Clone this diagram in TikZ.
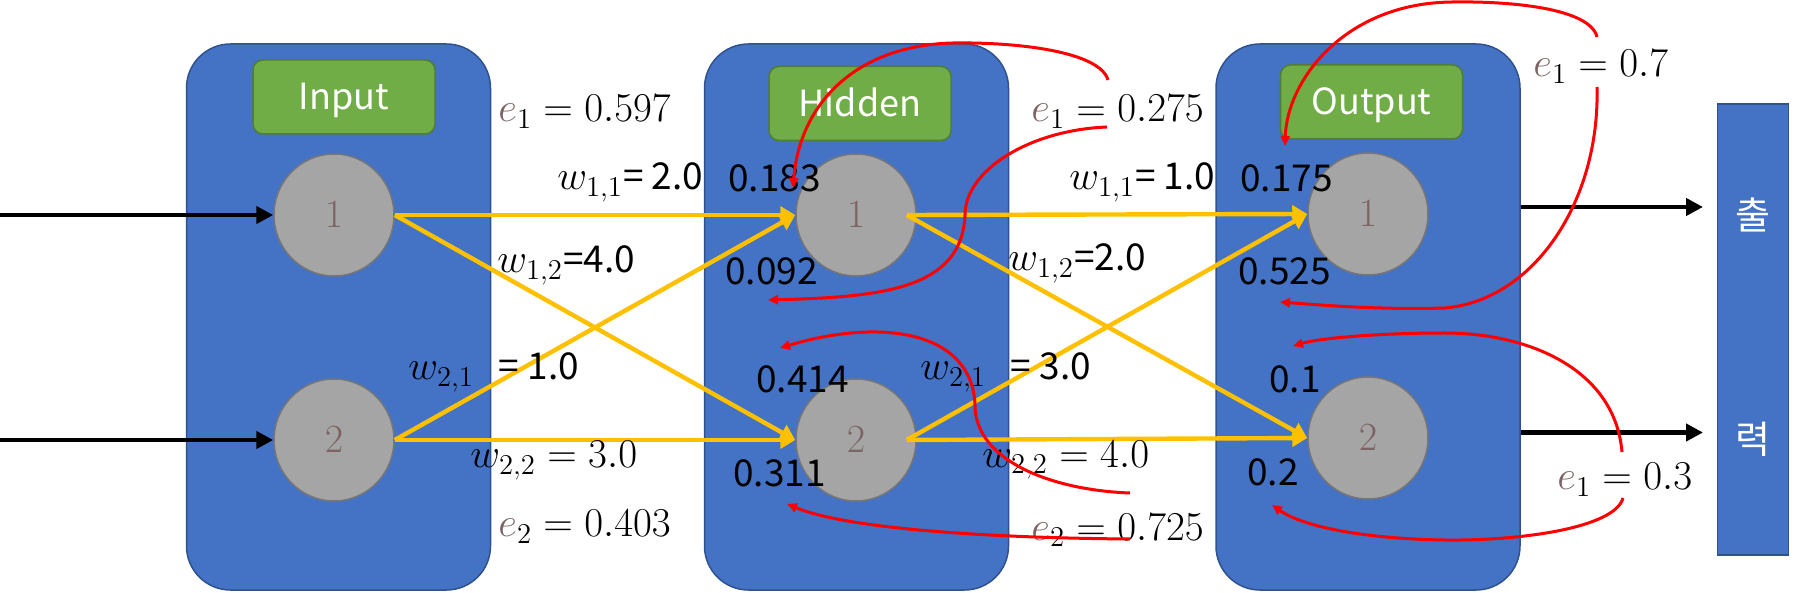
\RequirePackage{fix-cm}
\documentclass[tikz,border=0pt]{standalone}
\usepackage[no-math]{fontspec}
\setmainfont{Noto Sans CJK KR}
\usetikzlibrary{arrows.meta, positioning, shapes.geometric}
\definecolor{xBlue}{RGB}{68,114,196}
\definecolor{xBlueLine}{RGB}{47,82,143}
\definecolor{xGreen}{RGB}{112,173,71}
\definecolor{xGreenLine}{RGB}{80,126,50}
\definecolor{xGray}{RGB}{165,165,165}
\definecolor{xGrayLine}{RGB}{118,118,118}
\definecolor{xGold}{RGB}{255,192,0}
\definecolor{xBrown}{RGB}{124,100,100}
\definecolor{xRed}{RGB}{255,0,0}
\newcommand{\Ev}[2]{${\color{xBrown}e}_{#1} = #2$}
\newcommand{\Wt}[2]{$w_{#1}${\fontsize{18.5}{21}\selectfont#2}}
\tikzset{
  panel/.style={draw=xBlueLine, fill=xBlue, line width=0.75pt, rounded corners=22pt, minimum width=152pt, minimum height=273pt},
  badge/.style={draw=xGreenLine, fill=xGreen, line width=0.75pt, rounded corners=5pt, minimum width=91pt, minimum height=37pt,
                text height=13pt, text depth=0pt, text=white, font=\fontsize{18}{20}\selectfont},
  neuron/.style={ellipse, draw=xGrayLine, fill=xGray, line width=0.75pt, minimum width=60pt, minimum height=61pt, inner sep=0pt,
                 text=xBrown, font=\fontsize{20}{23}\selectfont},
  outbox/.style={draw=xBlueLine, fill=xBlue, line width=0.75pt, minimum width=35.5pt, minimum height=225.5pt},
  hangul/.style={text=white, inner sep=0pt, font=\fontsize{19}{22}\selectfont},
  num/.style={anchor=base west, inner sep=0pt, font=\fontsize{18.5}{21}\selectfont},
  eqn/.style={anchor=base west, inner sep=0pt, font=\fontsize{20.5}{24}\selectfont},
  feed/.style={-{Triangle[length=8.5pt, width=8.5pt]}, line width=2.2pt},
  wire/.style={-{Triangle[length=7.5pt, width=8.5pt]}, line width=2.2pt, xGold},
  bprop/.style={-{Triangle[length=5pt, width=4.5pt]}, line width=1.5pt, xRed},
}

\begin{document}
\begin{tikzpicture}[x=0.5pt, y=-0.5pt]
    \useasboundingbox (0,0) rectangle (1796,593);
    \node[panel] (ip) at (338.5,317) {};
    \node[panel] (hp) at (856.5,317) {};
    \node[panel] (op) at (1368,317) {};
    \node[badge] (ib) at (344,97)    {Input};
    \node[badge] (hb) at (860,103.5) {Hidden};
    \node[badge] (ob) at (1371.5,102) {Output};
    \node[outbox] (sk) at (1753,329.5) {};
    \node[hangul] (k1) at (1753,215) {출};
    \node[hangul] (k2) at (1753,439) {력};
    \node[neuron] (i1) at (334,215)  {$1$};
    \node[neuron] (i2) at (334,440)  {$2$};
    \node[neuron] (h1) at (856,215)  {$1$};
    \node[neuron] (h2) at (856,440)  {$2$};
    \node[neuron] (o1) at (1368,214) {$1$};
    \node[neuron] (o2) at (1368,438) {$2$};
    \coordinate (x1) at (0,215);
    \coordinate (x2) at (0,440);
    \coordinate (y1) at (1703,207);
    \coordinate (y2) at (1703,432.5);
    \draw[feed] (x1) -- (i1);
    \draw[feed] (x2) -- (i2);
    \draw[feed] (op.east |- y1) -- (y1);
    \draw[feed] (op.east |- y2) -- (y2);
    \draw[wire] (i1.east) -- (h1.west);
    \draw[wire] (i1.east) -- (h2.west);
    \draw[wire] (i2.east) -- (h1.west);
    \draw[wire] (i2.east) -- (h2.west);
    \draw[wire] ([xshift=-5pt]h1.east) -- (o1.west);
    \draw[wire] ([xshift=-5pt]h1.east) -- (o2.west);
    \draw[wire] ([xshift=-5pt]h2.east) -- (o1.west);
    \draw[wire] ([xshift=-5pt]h2.east) -- (o2.west);
    \node[num] (h1a) at (728,192)  {0.183};
    \node[num] (h1b) at (725,285)  {0.092};
    \node[num] (h2a) at (756,393)  {0.414};
    \node[num] (h2b) at (733,487)  {0.311};
    \node[num] (o1a) at (1240,192) {0.175};
    \node[num] (o1b) at (1238,285) {0.525};
    \node[num] (o2a) at (1269,393) {0.1};
    \node[num] (o2b) at (1247,486) {0.2};
    \node[eqn] (ei1)  at (498,122)  {\Ev{1}{0.597}};
    \node[eqn] (ei2)  at (498,537)  {\Ev{2}{0.403}};
    \node[eqn] (wi11) at (557,190)  {\Wt{1,1}{= 2.0}};
    \node[eqn] (wi12) at (497,273)  {\Wt{1,2}{=4.0}};
    \node[eqn] (wi21) at (408,380)  {\Wt{2,1}{\ \ \ = 1.0}};
    \node[eqn] (wi22) at (470,468)  {$w_{2,2} = 3.0$};
    \node[eqn] (eh1)  at (1031,122) {\Ev{1}{0.275}};
    \node[eqn] (eh2)  at (1031,540) {\Ev{2}{0.725}};
    \node[eqn] (wh11) at (1069,190) {\Wt{1,1}{= 1.0}};
    \node[eqn] (wh12) at (1008,271) {\Wt{1,2}{=2.0}};
    \node[eqn] (wh21) at (920,380)  {\Wt{2,1}{\ \ \ = 3.0}};
    \node[eqn] (wh22) at (982,467)  {$w_{2,2} = 4.0$};
    \node[eqn] (eo1)  at (1533,77)  {\Ev{1}{0.7}};
    \node[eqn] (eo2)  at (1557,490) {\Ev{1}{0.3}};
    \coordinate (r1s) at (1108,80);   \coordinate (r1t) at (793,188);
    \coordinate (r2s) at (1107,127);  \coordinate (r2t) at (768,300);
    \coordinate (r3s) at (1130,493);  \coordinate (r3t) at (780,348);
    \coordinate (r4s) at (1130,539);  \coordinate (r4t) at (787,504);
    \coordinate (r5s) at (1597,37);   \coordinate (r5t) at (1285,146);
    \coordinate (r6s) at (1597,87);   \coordinate (r6t) at (1280,302);
    \coordinate (r7s) at (1622,452);  \coordinate (r7t) at (1293,346);
    \coordinate (r8s) at (1623,498);  \coordinate (r8t) at (1272,505);
    \draw[bprop] (r1s) .. controls (1100,52) and (1020,42) .. (953,43) .. controls (860,45) and (800,100) .. (r1t);
    \draw[bprop] (r2s) .. controls (1030,130) and (965,170) .. (965,215) .. controls (962,290) and (880,297) .. (r2t);
    \draw[bprop] (r3s) .. controls (1050,490) and (975,460) .. (975,405) .. controls (972,330) and (880,318) .. (r3t);
    \draw[bprop] (r4s) .. controls (1000,538) and (850,530) .. (r4t);
    \draw[bprop] (r5s) .. controls (1590,8) and (1510,1) .. (1452,2) .. controls (1345,3) and (1287,80) .. (r5t);
    \draw[bprop] (r6s) .. controls (1600,200) and (1535,300) .. (1445,308) .. controls (1380,310) and (1320,305) .. (r6t);
    \draw[bprop] (r7s) .. controls (1615,370) and (1530,333) .. (1445,333) .. controls (1380,333) and (1320,338) .. (r7t);
    \draw[bprop] (r8s) .. controls (1615,528) and (1520,541) .. (1445,540) .. controls (1370,539) and (1305,528) .. (r8t);
\end{tikzpicture}
\end{document}
